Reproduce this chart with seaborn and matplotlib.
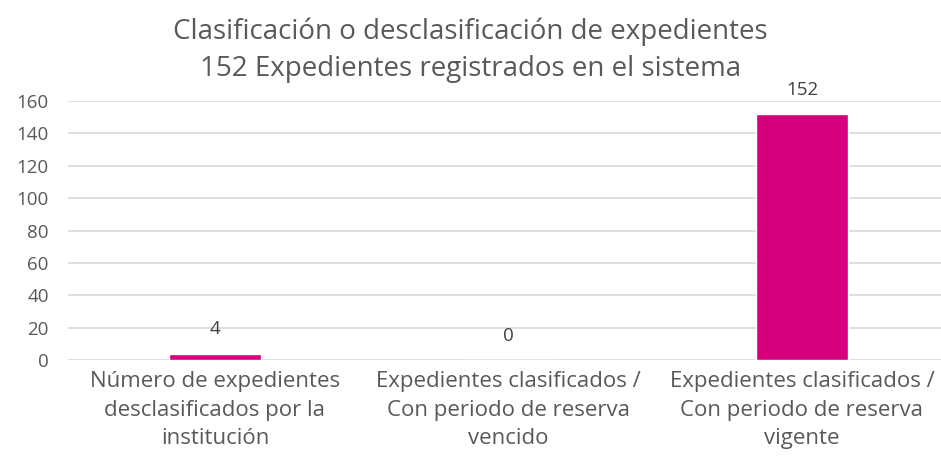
import matplotlib
matplotlib.use("Agg")
import matplotlib.pyplot as plt
import seaborn as sns
import pandas as pd

categorias = [
    "Número de expedientes\ndesclasificados por la\ninstitución",
    "Expedientes clasificados /\nCon periodo de reserva\nvencido",
    "Expedientes clasificados /\nCon periodo de reserva\nvigente",
]
valores = [4, 0, 152]
titulo = "Clasificación o desclasificación de expedientes\n152 Expedientes registrados en el sistema"

sns.set_theme(style="white")
plt.rcParams["font.family"] = ["Open Sans", "DejaVu Sans"]

df = pd.DataFrame({"cat": categorias, "val": valores})

fig = plt.figure(figsize=(9.41, 4.71), dpi=100)
# the plot area runs a little past the right edge, as in the original
ax = fig.add_axes([68.25 / 941, 1 - 360 / 471, 880.5 / 941, 259 / 471])

sns.barplot(data=df, x="cat", y="val", color="#D6007F", width=0.313,
            saturation=1, ax=ax, zorder=3)

ax.set_ylim(0, 160)
ax.set_yticks(range(0, 161, 20))
ax.yaxis.grid(True, color="#D9D9D9", linewidth=1.2, zorder=0)
ax.set_axisbelow(True)
for s in ax.spines.values():
    s.set_visible(False)
ax.set_xlabel("")
ax.set_ylabel("")
ax.tick_params(axis="y", length=0, labelsize=13.5, labelcolor="#595959", pad=14)
ax.tick_params(axis="x", length=0, labelsize=16, labelcolor="#595959", pad=8)
for lab in ax.get_xticklabels():
    lab.set_linespacing(1.48)

for i, v in enumerate(valores):
    ax.annotate(str(v), (i, v), xytext=(0, 11), textcoords="offset points",
                ha="center", va="bottom", fontsize=13.5, color="#404040")

fig.text(0.5, 1 - 50 / 471, titulo, ha="center", va="center",
         fontsize=20, color="#595959", linespacing=1.42)

fig.savefig("out.png", dpi=100)
